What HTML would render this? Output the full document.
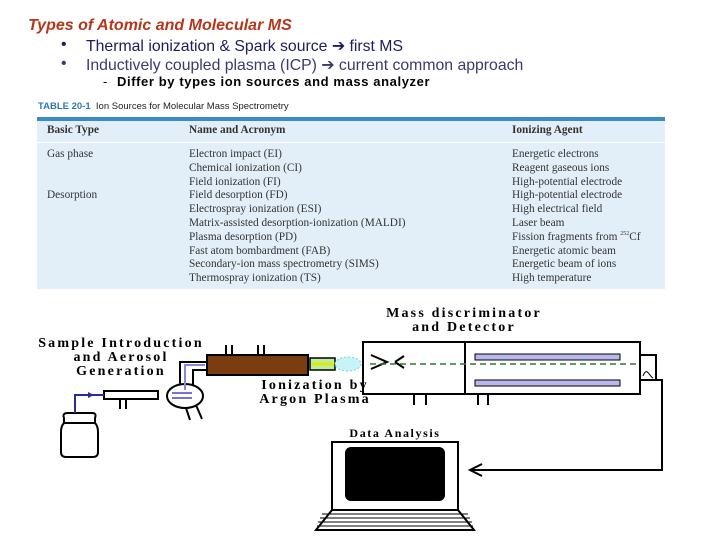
<!DOCTYPE html>
<html><head><meta charset="utf-8"><style>
body{margin:0;width:720px;height:540px;background:#fff;position:relative;overflow:hidden;font-family:"Liberation Sans",sans-serif}
.a{position:absolute;white-space:nowrap}
.t{font-family:"Liberation Serif",serif;font-size:11.3px;color:#333}
.d{font-family:"Liberation Serif",serif;font-weight:bold;font-size:14px;color:#000;text-align:center;line-height:14px;letter-spacing:2.2px}
</style></head><body>
<div class="a" style="left:28px;top:17px;font-size:16px;font-style:italic;font-weight:bold;color:#b5361a">Types of Atomic and Molecular MS</div>
<div class="a" style="left:61px;top:36px;font-size:15.8px;color:#1c1c60">•</div>
<div class="a" style="left:86px;top:36px;font-size:15.8px;color:#1c1c60">Thermal ionization &amp; Spark source ➔ first MS</div>
<div class="a" style="left:61px;top:55px;font-size:15.8px;color:#3a3a70">•</div>
<div class="a" style="left:86px;top:55px;font-size:15.8px;color:#3a3a70">Inductively coupled plasma (ICP) ➔ current common approach</div>
<div class="a" style="left:103px;top:74px;font-size:13px;color:#000">-</div>
<div class="a" style="left:117px;top:74px;font-size:13px;font-weight:bold;color:#000;letter-spacing:0.6px">Differ by types ion sources and mass analyzer</div>

<div class="a" style="left:38px;top:101px;font-size:9.5px;color:#222"><b style="color:#2a78b8">TABLE 20-1</b>&nbsp; Ion Sources for Molecular Mass Spectrometry</div>
<div class="a" style="left:37px;top:117px;width:628px;height:168px;background:#e2eff8;border-top:4px solid #3a8cc8"></div>
<div class="a" style="left:37px;top:142px;width:628px;height:1px;background:#fff"></div>
<div class="a t" style="left:47px;top:124px;font-weight:bold">Basic Type</div>
<div class="a t" style="left:189px;top:124px;font-weight:bold">Name and Acronym</div>
<div class="a t" style="left:512px;top:124px;font-weight:bold">Ionizing Agent</div>
<div class="a t" style="left:47px;top:148px;line-height:13.8px">Gas phase<br><br><br>Desorption</div>
<div class="a t" style="left:189px;top:148px;line-height:13.8px">Electron impact (EI)<br>Chemical ionization (CI)<br>Field ionization (FI)<br>Field desorption (FD)<br>Electrospray ionization (ESI)<br>Matrix-assisted desorption-ionization (MALDI)<br>Plasma desorption (PD)<br>Fast atom bombardment (FAB)<br>Secondary-ion mass spectrometry (SIMS)<br>Thermospray ionization (TS)</div>
<div class="a t" style="left:512px;top:148px;line-height:13.8px">Energetic electrons<br>Reagent gaseous ions<br>High-potential electrode<br>High-potential electrode<br>High electrical field<br>Laser beam<br>Fission fragments from <sup style="font-size:6px;line-height:0">252</sup>Cf<br>Energetic atomic beam<br>Energetic beam of ions<br>High temperature</div>

<div class="a d" style="left:20px;top:337px;width:202px">Sample Introduction<br>and Aerosol<br>Generation</div>
<div class="a d" style="left:364px;top:307px;width:200px">Mass discriminator<br>and Detector</div>
<div class="a d" style="left:235px;top:379px;width:160px">Ionization by<br>Argon Plasma</div>
<div class="a d" style="left:320px;top:426px;width:150px;font-size:12px;letter-spacing:1.6px">Data Analysis</div>

<svg class="a" style="left:0;top:0" width="720" height="540">
<g fill="none" stroke="#000" stroke-width="2">
<path d="M64 418 Q62 413 68 413 L92 413 Q97 413 95 418 L95 423 Q98 426 98 432 L98 452 Q98 457 93 457 L66 457 Q61 457 61 452 L61 432 Q61 426 64 423 Z"/>
<path d="M64 423 L95 423"/>
<rect x="104" y="391" width="54" height="8"/>
<path d="M120 399 v10 M126 399 v10"/>
<ellipse cx="185" cy="396" rx="18" ry="12"/>
<path d="M196 405 l6 14 M186 408 l4 12"/>
<path d="M180 385 V362 H207 M193 385 V370 H207"/>
<path d="M226 354 V345 M232 354 V345 M258 354 V345 M264 354 V345"/>
<rect x="363" y="342" width="102" height="52"/>
<rect x="465" y="342" width="175" height="52"/>
<rect x="640" y="355" width="16" height="25"/>
<path d="M414 394 V405 M426 394 V405 M478 394 V405 M488 394 V405"/>
<path d="M371 355 L387 362 L371 369 M395 362 L404 356 M395 362 L404 368"/>
<path d="M656 380 H662 V470 H472 M482 464 L470 470 L482 476"/>
<rect x="332" y="442" width="126" height="68" stroke-width="2"/>
<path d="M332 510 L316 530 H474 L458 510"/>
</g>
<rect x="207" y="355" width="101" height="20" fill="#7a3d10" stroke="#000" stroke-width="2"/>
<rect x="310" y="358" width="25" height="12" fill="#b8f0a0" stroke="#000" stroke-width="1.5"/>
<path d="M312 364 H334" stroke="#e8e800" stroke-width="3"/>
<ellipse cx="348" cy="364" rx="13" ry="7" fill="#c8f4f8" stroke="#6ad4e8" stroke-dasharray="2 2"/>
<path d="M75 413 V395 H104" stroke="#2a2a9a" stroke-width="2" fill="none"/>
<path d="M88 392 L94 395 L88 398" fill="#2a2a9a"/>
<path d="M185 390 V365 H205" stroke="#8888dd" stroke-width="2" fill="none"/>
<path d="M172 393 h20 M172 398 h20" stroke="#4444cc" stroke-width="1.5"/>
<rect x="345" y="447" width="100" height="54" rx="6" fill="#000"/>
<path d="M322 514 H468 M320 518 H470 M318 522 H472 M317 526 H473" stroke="#000"/>
<path d="M370 364 H640" stroke="#2a7a2a" stroke-dasharray="6 4" stroke-width="1.5"/>
<rect x="475" y="354" width="145" height="6" fill="#b8b8ee" stroke="#000"/>
<rect x="475" y="380" width="145" height="6" fill="#b8b8ee" stroke="#000"/>
<path d="M643 376 c4 -10 6 0 10 2" stroke="#000" fill="none"/>
</svg>
</body></html>
